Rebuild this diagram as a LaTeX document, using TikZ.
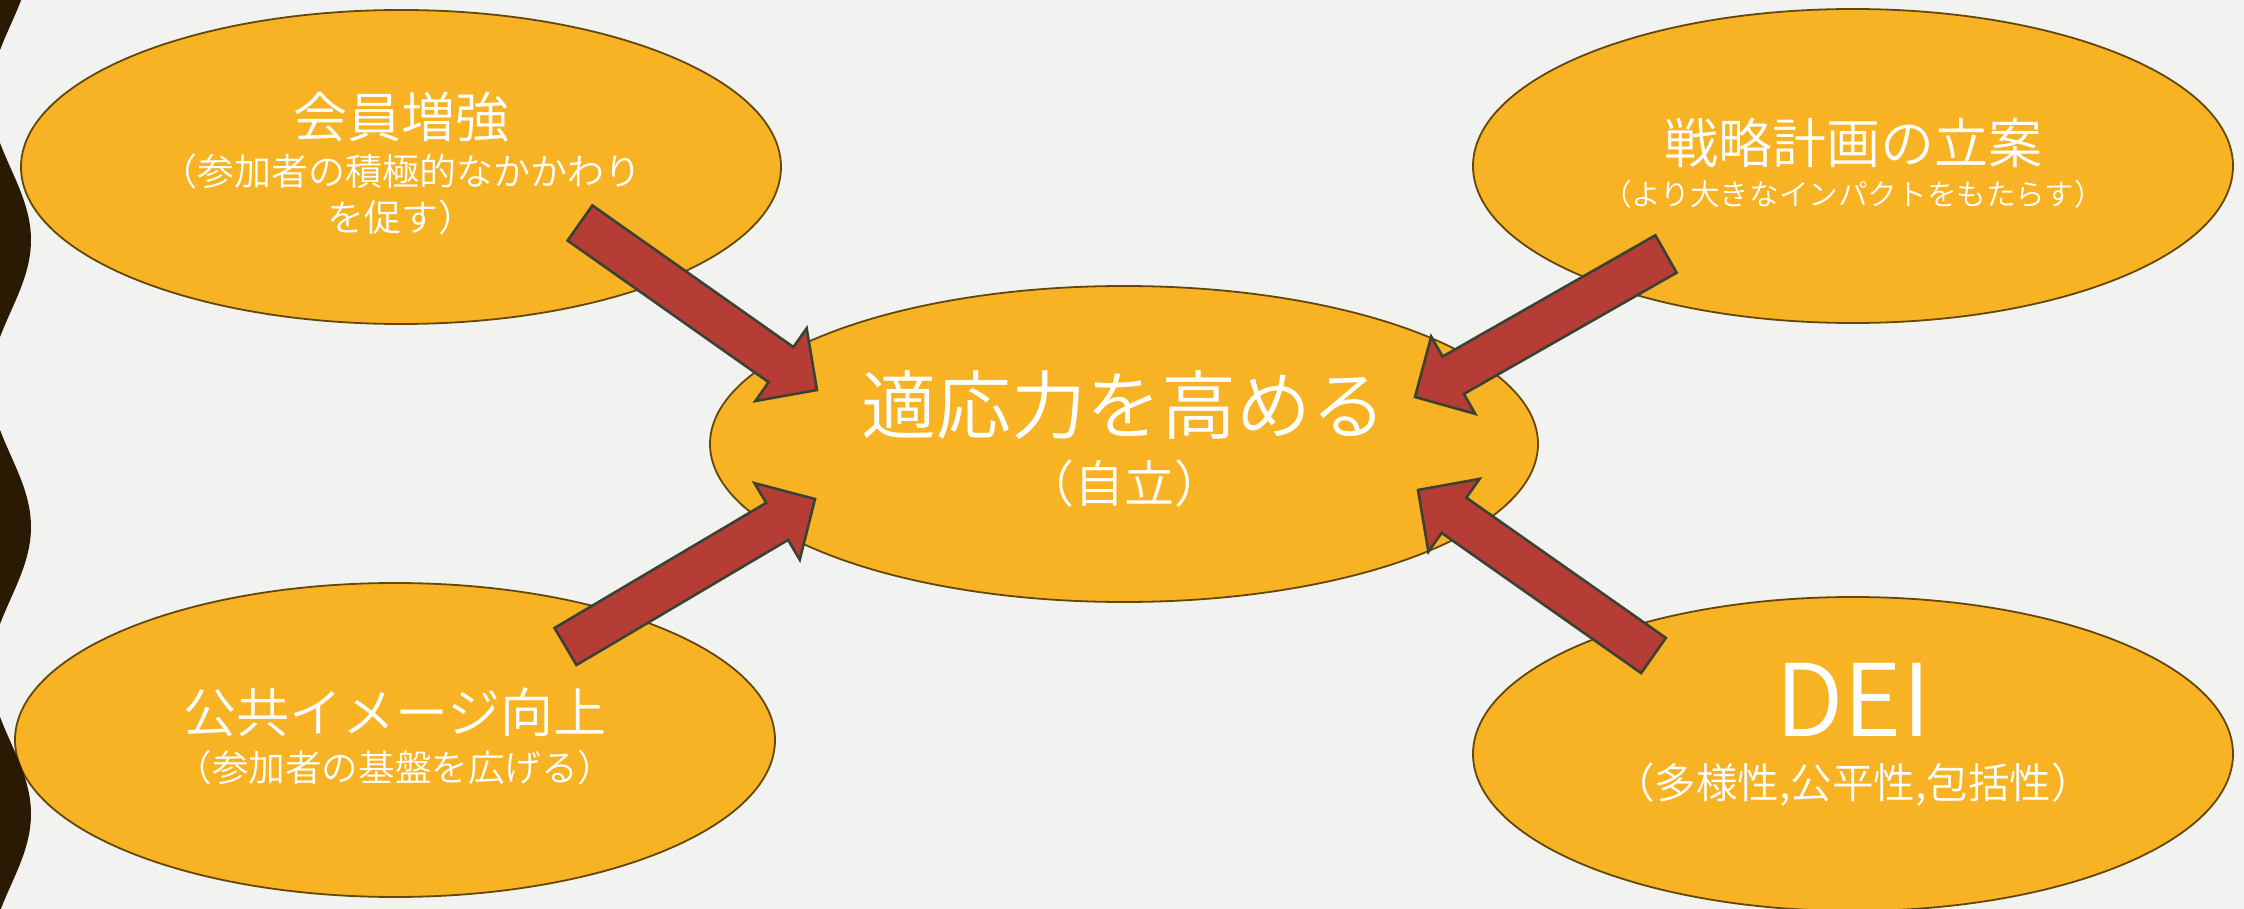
\documentclass[tikz,border=0pt]{standalone}
\usepackage{fontspec}
\setmainfont{Noto Sans CJK JP DemiLight}
\usetikzlibrary{calc,shapes.geometric}
\definecolor{bgc}{HTML}{F2F2F0}
\definecolor{efill}{HTML}{F7B324}
\definecolor{ebord}{HTML}{654708}
\definecolor{afill}{HTML}{B53D35}
\definecolor{abord}{HTML}{3B4233}
\definecolor{wavec}{HTML}{2A1A04}
\tikzset{
  blob/.style={ellipse, draw=ebord, line width=0.9pt, fill=efill, inner sep=0pt, outer sep=0pt,
    minimum width=380pt, minimum height=157pt},
  barrow/.style={draw=abord, fill=afill, line width=1.3pt, line join=miter},
  txt/.style={text=white, inner sep=0pt, anchor=base},
}
\newcommand{\myblockarrow}[2]{%
  \coordinate (ba-h) at ($(#2)!22pt!(#1)$);
  \draw[barrow] ($(#1)!10.75pt!90:(#2)$) -- ($(ba-h)!10.75pt!-90:(#1)$)
    -- ($(ba-h)!22.25pt!-90:(#1)$) -- (#2) -- ($(ba-h)!22.25pt!90:(#1)$)
    -- ($(ba-h)!10.75pt!90:(#1)$) -- ($(#1)!10.75pt!-90:(#2)$) -- cycle;
}
\begin{document}
\begin{tikzpicture}[x=0.5pt,y=-0.5pt]
\fill[bgc] (0,0) rectangle (2244,909);
\useasboundingbox (0,0) rectangle (2244,909);

% ellipses
\node[blob] (tl) at (401,167) {};
\node[blob] (tr) at (1853,166) {};
\node[blob] (bl) at (395,740) {};
\node[blob] (br) at (1853,754) {};
\node[blob, minimum width=414pt, minimum height=158pt] (ctr) at (1124,444) {};

% texts
\node[txt, font=\fontsize{27}{27}\selectfont] (tlA) at ($(tl)+(0,-29.5)$) {会員増強};
\node[txt, font=\fontsize{18.5}{18.5}\selectfont] (tlB) at ($(tl)+(0,19)$) {（参加者の積極的なかかわり};
\node[txt, font=\fontsize{18.5}{18.5}\selectfont] (tlC) at ($(tl)+(0,65)$) {を促す）};

\node[txt, font=\fontsize{27}{27}\selectfont] (trA) at ($(tr)+(0,-2.5)$) {戦略計画の立案};
\node[txt, font=\fontsize{14.8}{14.8}\selectfont] (trB) at ($(tr)+(0,39.5)$) {（より大きなインパクトをもたらす）};

\node[txt, font=\fontsize{37.5}{37.5}\selectfont] (cA) at ($(ctr)+(0,-11)$) {適応力を高める};
\node[txt, font=\fontsize{25}{25}\selectfont] (cB) at ($(ctr)+(0,58.5)$) {（自立）};

\node[txt, font=\fontsize{26.5}{26.5}\selectfont] (blA) at ($(bl)+(0,-7.5)$) {公共イメージ向上};
\node[txt, font=\fontsize{18.3}{18.3}\selectfont] (blB) at ($(bl)+(0,41)$) {（参加者の基盤を広げる）};

\node[txt, font=\fontsize{50}{50}\selectfont] (brA) at ($(br)+(0,-18)$) {DEI};
\node[txt, font=\fontsize{20.8}{20.8}\selectfont] (brB) at ($(br)+(0,44)$) {（多様性,公平性,包括性）};

% block arrows
\coordinate (tlT) at (580,223);   \coordinate (tlH) at (817,390);
\coordinate (trT) at (1666,254);  \coordinate (trH) at (1415,397);
\coordinate (blT) at (565.5,646.5); \coordinate (blH) at (815,499);
\coordinate (brT) at (1653.5,655.5); \coordinate (brH) at (1418,490);
\myblockarrow{tlT}{tlH}
\myblockarrow{trT}{trH}
\myblockarrow{blT}{blH}
\myblockarrow{brT}{brH}

% wavy band at left
\begin{scope}
\clip (0,0) rectangle (2244,909);
\fill[wavec] (-40,-5) -- plot[domain=-5:914, samples=240, smooth]
  ({10.7+20.3*cos((\x-240)*1.25436)},{\x}) -- (-40,914) -- cycle;
\end{scope}
\end{tikzpicture}
\end{document}
